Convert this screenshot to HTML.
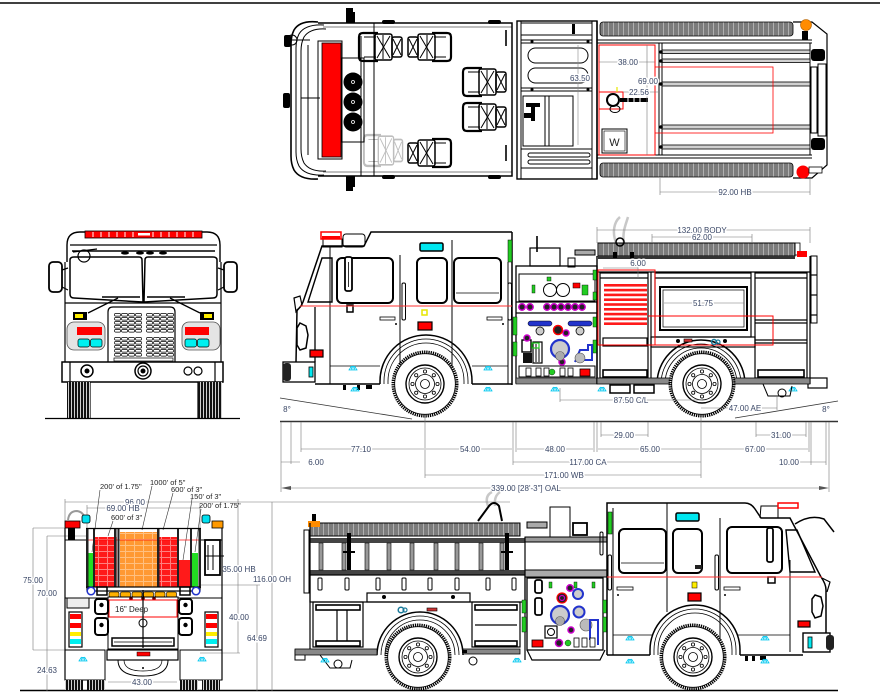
<!DOCTYPE html>
<html><head><meta charset="utf-8"><style>
html,body{margin:0;padding:0;background:#fff;}
svg{display:block;}
text{font-family:"Liberation Sans",sans-serif;}
.d{font-size:8px;fill:#3a4766;text-anchor:middle;paint-order:stroke;stroke:#fff;stroke-width:3px;stroke-linejoin:round;}
.h{font-size:7.5px;fill:#222;}
</style></head><body>
<svg width="880" height="700" viewBox="0 0 880 700" xmlns="http://www.w3.org/2000/svg">
<defs>
<pattern id="lad" width="5" height="10" patternUnits="userSpaceOnUse"><rect width="5" height="10" fill="#7c7c7c"/><rect x="3" width="1" height="10" fill="#b0b0b0"/></pattern>
<pattern id="hr" width="9" height="6" patternUnits="userSpaceOnUse"><rect width="9" height="6" fill="#ff1a1a"/><rect y="5" width="9" height="1" fill="#ff8080"/><rect x="8" width="1" height="6" fill="#ff8080"/></pattern>
<pattern id="ho" width="9" height="6" patternUnits="userSpaceOnUse"><rect width="9" height="6" fill="#ff9933"/><rect y="5" width="9" height="1" fill="#ffc080"/><rect x="8" width="1" height="6" fill="#ffc080"/></pattern>
<pattern id="tread" width="3" height="4" patternUnits="userSpaceOnUse"><rect width="3" height="4" fill="#111"/><rect x="2" width="0.8" height="4" fill="#fff"/></pattern>
<pattern id="g1" x="114" y="313" width="7" height="4" patternUnits="userSpaceOnUse"><rect x="0.5" y="0.5" width="6" height="2.6" rx="1" fill="#fff" stroke="#000" stroke-width="0.7"/></pattern>
<pattern id="g2" x="146" y="313" width="7" height="4" patternUnits="userSpaceOnUse"><rect x="0.5" y="0.5" width="6" height="2.6" rx="1" fill="#fff" stroke="#000" stroke-width="0.7"/></pattern>
<g id="wheel">
<circle r="32" fill="#fff" stroke="#000" stroke-width="3" stroke-dasharray="1.3 0.9"/>
<circle r="30.3" fill="none" stroke="#000" stroke-width="0.8"/>
<circle r="19" fill="none" stroke="#000" stroke-width="1.4"/>
<circle r="16" fill="none" stroke="#000" stroke-width="0.8"/>
<circle r="9.5" fill="none" stroke="#000" stroke-width="0.8"/>
<circle r="4.5" fill="none" stroke="#000" stroke-width="0.8"/>
<g fill="none" stroke="#000" stroke-width="0.8">
<circle cx="12.5" cy="0" r="1.6"/><circle cx="8.8" cy="8.8" r="1.6"/><circle cx="0" cy="12.5" r="1.6"/><circle cx="-8.8" cy="8.8" r="1.6"/><circle cx="-12.5" cy="0" r="1.6"/><circle cx="-8.8" cy="-8.8" r="1.6"/><circle cx="0" cy="-12.5" r="1.6"/><circle cx="8.8" cy="-8.8" r="1.6"/>
</g>
</g>
<g id="sp"><path d="M-4,3 L-1.5,-1 M-2,3 L-0.7,-1 M0,3 L0,-1 M2,3 L0.7,-1 M4,3 L1.5,-1 M-4.5,3 H4.5" stroke="#00c8f0" stroke-width="0.8" fill="none"/></g>
<g id="seat" fill="none" stroke="#000">
<path d="M20,1 L5,1 Q1,1 1,5 L1,25 Q1,29 5,29 L20,29" stroke-width="2.2"/>
<path d="M6,5 L18,5 M6,25 L18,25" stroke-width="1"/>
<rect x="17" y="2" width="17" height="26" rx="2" stroke-width="1.5"/>
<path d="M19,4 L32,26 M32,4 L19,26 M25,3 L25,27" stroke-width="1"/>
<rect x="34" y="5" width="10" height="20" rx="2" stroke-width="1.5"/>
<path d="M35,7 L43,23 M43,7 L35,23" stroke-width="1"/>
</g>
</defs>

<!-- frame lines -->
<line x1="0" y1="3" x2="880" y2="3" stroke="#000" stroke-width="1.5"/>
<line x1="20" y1="690.5" x2="838" y2="690.5" stroke="#000" stroke-width="1.6"/>

<!-- ================= TOP VIEW ================= -->
<g fill="none" stroke="#000" stroke-width="1">
<path d="M318,22 Q300,20 294,30 Q291,36 291,44 L291,156 Q291,164 294,170 Q300,180 318,179" stroke-width="1.6"/>
<path d="M324,25 Q305,24 299,34 Q296,40 296,48 L296,152 Q296,160 299,166 Q305,176 324,175"/>
<path d="M326,29 Q310,28 304,37 Q301,43 301,51 L301,149 Q301,157 304,163 Q310,172 326,171"/>
<line x1="308" y1="45" x2="308" y2="155"/>
<line x1="301" y1="98" x2="320" y2="98"/>
<path d="M318,23 H512 V176 H318" stroke-width="1.5"/>
<line x1="323" y1="27" x2="512" y2="27" stroke-width="0.6"/>
<line x1="323" y1="172" x2="512" y2="172" stroke-width="0.6"/>
<line x1="361" y1="36" x2="361" y2="176"/>
<line x1="374" y1="23" x2="374" y2="176"/>
<rect x="318" y="41" width="24" height="118"/>
<rect x="341" y="58" width="23" height="84"/>
<circle cx="292" cy="40" r="5"/>
<line x1="292" y1="40" x2="310" y2="40"/>
<line x1="506" y1="30" x2="506" y2="46" stroke-width="1.6"/>
<line x1="506" y1="145" x2="506" y2="161" stroke-width="1.6"/>
</g>
<rect x="322" y="43" width="19" height="114" fill="#f00" stroke="#000" stroke-width="0.8"/>
<g fill="#000">
<rect x="284" y="35" width="7" height="12" rx="2"/>
<rect x="283" y="93" width="7" height="15" rx="2"/>
<path d="M346,8 h7 v4 h2 v11 h-9 z"/>
<path d="M346,176 h9 v11 h-2 v4 h-7 z"/>
<rect x="382" y="20" width="13" height="4" rx="2"/><rect x="488" y="20" width="13" height="4" rx="2"/>
<rect x="382" y="175" width="13" height="4" rx="2"/><rect x="488" y="175" width="13" height="4" rx="2"/>
<circle cx="353" cy="82" r="9.5"/><circle cx="353" cy="102" r="9.5"/><circle cx="353" cy="122" r="9.5"/>
</g>
<g fill="none" stroke="#fff" stroke-width="0.8"><circle cx="353" cy="82" r="1.5"/><circle cx="353" cy="102" r="1.5"/><circle cx="353" cy="122" r="1.5"/></g>
<use href="#seat" transform="translate(358,32)"/>
<use href="#seat" transform="translate(452,32) scale(-1,1)"/>
<use href="#seat" transform="translate(462,67)"/>
<use href="#seat" transform="translate(462,102)"/>
<use href="#seat" transform="translate(452,138) scale(-1,1)"/>
<use href="#seat" transform="translate(363,134) scale(0.9,1.1)" opacity="0.25"/>

<!-- pump house top -->
<g fill="none" stroke="#000" stroke-width="1">
<rect x="517" y="21" width="80" height="158" stroke-width="1.4"/>
<line x1="521" y1="21" x2="521" y2="179"/>
<line x1="592" y1="21" x2="592" y2="179"/>
<rect x="521" y="23" width="71" height="12"/>
<line x1="521" y1="40" x2="592" y2="40"/><line x1="521" y1="43" x2="592" y2="43"/>
<rect x="528" y="48" width="60" height="15" rx="7.5"/>
<rect x="528" y="68" width="60" height="15" rx="7.5"/>
<line x1="521" y1="88" x2="592" y2="88"/><line x1="521" y1="91" x2="592" y2="91"/>
<rect x="523" y="96" width="50" height="50"/>
<line x1="545" y1="96" x2="545" y2="146"/><line x1="549" y1="96" x2="549" y2="146"/>
<line x1="521" y1="149" x2="592" y2="149"/>
<rect x="528" y="153" width="62" height="4" rx="2"/>
<rect x="528" y="160" width="62" height="4" rx="2"/>
<line x1="521" y1="168" x2="592" y2="168"/>
</g>
<g fill="#000"><rect x="572" y="24" width="3" height="10"/><rect x="526" y="103" width="14" height="4"/><rect x="531" y="107" width="4" height="14"/><rect x="524" y="113" width="7" height="5"/><circle cx="532" cy="41.5" r="1.5"/><circle cx="588" cy="41.5" r="1.5"/><circle cx="532" cy="89.5" r="1.5"/><circle cx="588" cy="89.5" r="1.5"/></g>
<line x1="578" y1="45" x2="578" y2="145" stroke="#888" stroke-width="0.6"/>
<text class="d" x="580" y="81">63.50</text>

<!-- body top -->
<rect x="600" y="22" width="193" height="14" rx="3" fill="url(#lad)" stroke="#000" stroke-width="0.8"/>
<rect x="600" y="163" width="193" height="14" rx="3" fill="url(#lad)" stroke="#000" stroke-width="0.8"/>
<g fill="none" stroke="#000" stroke-width="1">
<line x1="597" y1="21" x2="597" y2="179" stroke-width="1.4"/>
<path d="M793,22 H812 L827,34 V165 L812,178 H793" stroke-width="1.2"/>
<line x1="597" y1="40" x2="812" y2="40"/><line x1="597" y1="43" x2="812" y2="43"/>
<line x1="597" y1="155" x2="812" y2="155"/><line x1="597" y1="158" x2="812" y2="158"/>
<line x1="659" y1="43" x2="659" y2="155"/><line x1="662" y1="43" x2="662" y2="155"/>
<line x1="810" y1="43" x2="810" y2="155"/>
<rect x="811" y="67" width="6" height="66"/>
<rect x="818" y="64" width="8" height="72"/>
</g>
<g fill="#d0d0d0" stroke="#000" stroke-width="0.8">
<rect x="662" y="50" width="148" height="3.5"/><rect x="662" y="59" width="148" height="3.5"/>
<rect x="662" y="82" width="148" height="4"/><rect x="662" y="125" width="148" height="4"/><rect x="662" y="145" width="148" height="4"/>
</g>
<g fill="#000">
<rect x="811" y="49" width="14" height="12" rx="3"/><rect x="811" y="138" width="14" height="12" rx="3"/>
<rect x="802" y="31" width="6" height="9"/>
<circle cx="661" cy="52" r="1.8"/><circle cx="661" cy="61" r="1.8"/><circle cx="661" cy="84" r="1.8"/><circle cx="661" cy="127" r="1.8"/><circle cx="661" cy="147" r="1.8"/>
</g>
<circle cx="806" cy="25" r="5.5" fill="#ff8c00" stroke="#b06000" stroke-width="0.6"/>
<circle cx="803" cy="172" r="6.5" fill="#f00"/>
<rect x="809" y="167" width="13" height="6" fill="#fff" stroke="#000" stroke-width="0.8"/>
<g fill="none" stroke="#f00" stroke-width="1">
<rect x="599" y="45" width="56" height="110"/>
<rect x="655" y="67" width="118" height="66" stroke-width="0.8"/>
<rect x="599" y="92" width="24" height="17"/>
</g>
<g fill="none" stroke="#000">
<circle cx="613" cy="100" r="6" stroke-width="2"/>
<ellipse cx="615" cy="109" rx="5" ry="3.5" stroke-width="1"/>
</g>
<rect x="620" y="98" width="28" height="4" fill="#000"/>
<g stroke="#fff" stroke-width="1"><line x1="628" y1="98" x2="628" y2="102"/><line x1="634" y1="98" x2="634" y2="102"/><line x1="640" y1="98" x2="640" y2="102"/></g>
<line x1="617" y1="87" x2="617" y2="92" stroke="#e6e600" stroke-width="1.2"/>
<g fill="none" stroke="#000" stroke-width="1"><rect x="602" y="129" width="25" height="24"/><rect x="604" y="131" width="21" height="20" stroke-width="0.6"/></g>
<text x="614.5" y="146" font-size="11" text-anchor="middle" fill="#222">W</text>
<g stroke="#777" stroke-width="0.6" fill="none">
<line x1="599" y1="62" x2="655" y2="62"/>
<line x1="647" y1="45" x2="647" y2="155"/>
<line x1="623" y1="92" x2="658" y2="92"/>
<line x1="660" y1="178" x2="660" y2="195"/><line x1="810" y1="178" x2="810" y2="195"/>
<line x1="660" y1="192" x2="810" y2="192"/>
</g>
<text class="d" x="628" y="65">38.00</text>
<text class="d" x="648" y="84">69.00</text>
<text class="d" x="639" y="95">22.56</text>
<text class="d" x="735" y="195">92.00 HB</text>

<!-- ================= FRONT VIEW ================= -->
<g fill="none" stroke="#000" stroke-width="1.2">
<path d="M67,262 L67,245 Q67,232 80,232 L207,232 Q220,232 220,245 L220,262" stroke-width="1.4"/>
<line x1="70" y1="245" x2="217" y2="245"/>
<line x1="72" y1="251" x2="215" y2="251" stroke-width="1.6"/>
<path d="M70,260 Q70,257 74,257 L139,257 Q142,257 142,260 L143,302 L74,298 Q70,298 70,294 Z" stroke-width="1.5"/>
<path d="M217,260 Q217,257 213,257 L148,257 Q145,257 145,260 L144,302 L213,298 Q217,298 217,294 Z" stroke-width="1.5"/>
<circle cx="84" cy="256" r="6"/>
<line x1="73" y1="252" x2="97" y2="249"/>
<rect x="49" y="262" width="13" height="30" rx="4" stroke-width="1.8"/>
<rect x="224" y="262" width="13" height="30" rx="4" stroke-width="1.8"/>
<path d="M62,270 L68,268 M62,287 L68,290 M224,270 L218,268 M224,287 L218,290"/>
<line x1="65" y1="262" x2="65" y2="362"/><line x1="221" y1="262" x2="221" y2="362"/>
<line x1="65" y1="303" x2="221" y2="303"/>
<path d="M108,362 L108,312 Q108,307 113,307 L170,307 Q175,307 175,312 L175,362"/>
<line x1="102" y1="297" x2="140" y2="297" stroke-width="1.5"/>
<line x1="147" y1="297" x2="185" y2="297" stroke-width="1.5"/>
<line x1="88" y1="313" x2="118" y2="298" stroke-width="1.3"/>
<line x1="200" y1="313" x2="170" y2="298" stroke-width="1.3"/>
<rect x="62" y="362" width="161" height="20" stroke-width="1.5"/>
<line x1="70" y1="362" x2="70" y2="382"/><line x1="215" y1="362" x2="215" y2="382"/>
<circle cx="87" cy="371" r="6" stroke-width="1.5"/>
<circle cx="143" cy="371" r="8" stroke-width="1.5"/>
<circle cx="143" cy="371" r="5"/>
<circle cx="188" cy="371" r="4"/><circle cx="198" cy="371" r="4"/>
<line x1="90" y1="382" x2="90" y2="418"/><line x1="198" y1="382" x2="198" y2="418"/>
</g>
<g fill="#000"><ellipse cx="125" cy="253" rx="4" ry="1.6"/><ellipse cx="140" cy="253" rx="4" ry="1.6"/><ellipse cx="150" cy="253" rx="4" ry="1.6"/><ellipse cx="163" cy="253" rx="4" ry="1.6"/><circle cx="87" cy="371" r="2.5"/><circle cx="143" cy="371" r="2.5"/></g>
<rect x="85" y="231" width="117" height="7" fill="#f00" stroke="#000" stroke-width="0.8"/>
<g stroke="#fff" stroke-width="1"><line x1="93" y1="232" x2="93" y2="237"/><line x1="101" y1="232" x2="101" y2="237"/><line x1="109" y1="232" x2="109" y2="237"/><line x1="117" y1="232" x2="117" y2="237"/><line x1="125" y1="232" x2="125" y2="237"/><line x1="133" y1="232" x2="133" y2="237"/><line x1="153" y1="232" x2="153" y2="237"/><line x1="161" y1="232" x2="161" y2="237"/><line x1="169" y1="232" x2="169" y2="237"/><line x1="177" y1="232" x2="177" y2="237"/><line x1="185" y1="232" x2="185" y2="237"/><line x1="193" y1="232" x2="193" y2="237"/></g>
<rect x="138" y="233" width="12" height="2.5" fill="#fff"/>
<rect x="114" y="313" width="28" height="20" fill="url(#g1)"/>
<rect x="146" y="313" width="28" height="20" fill="url(#g2)"/>
<rect x="114" y="337" width="28" height="20" fill="url(#g1)"/>
<rect x="146" y="337" width="28" height="20" fill="url(#g2)"/>
<rect x="114" y="358" width="59" height="3" fill="#fff" stroke="#000" stroke-width="0.7"/>
<rect x="73" y="312" width="14" height="8" fill="#000"/><rect x="75" y="314" width="8" height="4" fill="#ffee00"/>
<rect x="200" y="312" width="14" height="8" fill="#000"/><rect x="204" y="314" width="8" height="4" fill="#ffee00"/>
<rect x="67" y="322" width="38" height="28" rx="7" fill="#e4e4e4" stroke="#555" stroke-width="0.8"/>
<rect x="182" y="322" width="38" height="28" rx="7" fill="#e4e4e4" stroke="#555" stroke-width="0.8"/>
<rect x="77" y="327" width="25" height="8" fill="#f00"/><rect x="185" y="327" width="24" height="8" fill="#f00"/>
<g fill="#00f0f0" stroke="#000" stroke-width="0.7"><rect x="78" y="339" width="11.5" height="8" rx="2"/><rect x="90.5" y="339" width="11.5" height="8" rx="2"/><rect x="185" y="339" width="11.5" height="8" rx="2"/><rect x="197.5" y="339" width="11.5" height="8" rx="2"/></g>
<rect x="67" y="382" width="23" height="36" fill="url(#tread)"/>
<rect x="198" y="382" width="24" height="36" fill="url(#tread)"/>
<line x1="45" y1="418.5" x2="240" y2="418.5" stroke="#000" stroke-width="1.2"/>

<!-- ================= SIDE VIEW 1 (facing left) ================= -->
<!-- deck gun faded -->
<path d="M616,243 C612,232 614,222 620,217 M624,243 C622,232 626,224 628,217" stroke="#c8c8c8" stroke-width="2.5" fill="none"/>
<g fill="none" stroke="#000" stroke-width="1.3">
<path d="M512,232 H371 L364,246 H322 L303,302 Q301,307 297,310 L296,362" stroke-width="1.5"/>
<rect x="343" y="234" width="22" height="13" rx="3" stroke-width="1"/>
<rect x="323" y="239" width="19" height="8" stroke-width="1"/>
<line x1="315" y1="307" x2="315" y2="362"/>
<rect x="283" y="362" width="32" height="20"/>
<path d="M315,384 H380 M472,384 H512" stroke-width="1.5"/>
<line x1="512" y1="232" x2="512" y2="385" stroke-width="1.5"/>
<path d="M380,384 V381 A46,46 0 0 1 472,381 V384" stroke-width="1.5"/>
<path d="M384,384 V381 A42,42 0 0 1 468,381 V384" stroke-width="0.8"/>
<path d="M388,384 V381 A38,38 0 0 1 464,381 V384" stroke-width="0.8"/>
<rect x="337" y="258" width="56" height="45" rx="5" stroke-width="2"/>
<rect x="417" y="258" width="30" height="45" rx="5" stroke-width="2"/>
<rect x="454" y="258" width="47" height="45" rx="5" stroke-width="2"/>
<line x1="456" y1="293" x2="499" y2="293" stroke-width="0.8"/>
<path d="M322,258 H332 V302 H308 Z" stroke-width="1.4"/>
<line x1="330" y1="247" x2="330" y2="384" stroke-width="1"/>
<line x1="400" y1="255" x2="400" y2="366" stroke-width="1"/>
<line x1="452" y1="240" x2="452" y2="384" stroke-width="1"/>
<line x1="508" y1="262" x2="508" y2="384" stroke-width="1"/>
<path d="M330,366 H380 M472,366 H508" stroke-width="0.8"/>
<rect x="402" y="283" width="3.5" height="37" rx="1.5" stroke-width="1"/>
<rect x="508" y="283" width="3.5" height="37" rx="1.5" stroke-width="1"/>
<rect x="380" y="317" width="15" height="3" stroke-width="0.8"/>
<rect x="487" y="317" width="15" height="3" stroke-width="0.8"/>
<path d="M300,323 L306,326 L308,335 L306,348 L300,350 L297,345 L297,328 Z" stroke-width="1.5"/>
<path d="M294,298 L300,296 L302,305 L296,312 Z" stroke-width="1.2"/>
</g>
<rect x="345" y="257" width="7" height="34" rx="2" fill="#fff" stroke="#000" stroke-width="1.8"/>
<line x1="348.5" y1="262" x2="348.5" y2="287" stroke="#000" stroke-width="0.8"/>
<rect x="347" y="305" width="6" height="7" fill="#fff" stroke="#000" stroke-width="1.5"/>
<rect x="321" y="232" width="20" height="7" fill="#fff" stroke="#f00" stroke-width="1.5"/>
<rect x="322" y="236" width="18" height="3" fill="#f00"/>
<circle cx="396" cy="324" r="1" fill="#000"/><circle cx="503" cy="324" r="1" fill="#000"/>
<rect x="508" y="240" width="4" height="22" fill="#22cc22" stroke="#000" stroke-width="0.5"/>
<rect x="420" y="243" width="23" height="8" rx="1.5" fill="#00e8f0" stroke="#000" stroke-width="1.5"/>
<line x1="300" y1="306" x2="512" y2="306" stroke="#ff3030" stroke-width="1"/>
<rect x="422" y="310" width="5" height="5" fill="none" stroke="#e6e600" stroke-width="1.5"/>
<rect x="418" y="322" width="14" height="8" fill="#f00" stroke="#000" stroke-width="1.2"/>
<rect x="310" y="350" width="13" height="7" fill="#f00" stroke="#000" stroke-width="1.2"/>
<rect x="283" y="363" width="8" height="18" rx="3" fill="#222"/>
<rect x="309" y="367" width="4" height="10" fill="#00e8f0" stroke="#000" stroke-width="0.8"/>
<g fill="#000"><rect x="343" y="385" width="3" height="5"/><rect x="357" y="385" width="3" height="5"/><rect x="366" y="385" width="6" height="4"/></g>
<use href="#sp" x="353" y="367"/><use href="#sp" x="488" y="367"/><use href="#sp" x="355" y="388"/><use href="#sp" x="488" y="388"/><use href="#sp" x="555" y="388"/><use href="#sp" x="602" y="388"/><use href="#sp" x="793" y="388"/>
<use href="#wheel" x="425" y="384"/>
<!-- pump panel -->
<g fill="none" stroke="#000" stroke-width="1">
<line x1="537" y1="236" x2="537" y2="252" stroke-width="1.6"/>
<rect x="530" y="248" width="30" height="18" stroke-width="1.2"/>
<rect x="568" y="258" width="7" height="9"/>
<rect x="575" y="250" width="20" height="5" fill="#aaa"/>
<rect x="516" y="266" width="81" height="117" stroke-width="1.3"/>
<rect x="519" y="274" width="76" height="27"/>
<circle cx="550" cy="290" r="6.5"/><circle cx="563" cy="290" r="6.5"/>
<line x1="516" y1="302" x2="597" y2="302" stroke-width="1.2"/>
<line x1="516" y1="313" x2="597" y2="313" stroke-width="1.2"/>
<rect x="522" y="340" width="9" height="12" stroke-width="1.4"/>
<rect x="533" y="342" width="9" height="21" stroke-width="1.2"/>
<line x1="536" y1="344" x2="536" y2="362"/><line x1="539" y1="344" x2="539" y2="362"/>
<rect x="519" y="366" width="76" height="11"/>
</g>
<g fill="#22cc22" stroke="#000" stroke-width="0.4">
<rect x="532" y="285" width="3" height="8"/><rect x="547" y="277" width="4" height="4"/>
<rect x="582" y="285" width="6" height="10"/>
<rect x="513" y="317" width="4" height="18"/><rect x="513" y="342" width="4" height="14"/>
<rect x="593" y="270" width="4" height="10"/><rect x="593" y="292" width="4" height="8"/><rect x="593" y="317" width="4" height="10"/><rect x="593" y="340" width="4" height="13"/>
<rect x="532" y="343" width="7" height="5" fill="none" stroke="#22cc22" stroke-width="1.2"/>
<circle cx="552" cy="372" r="3"/>
</g>
<rect x="573" y="283" width="7" height="5" fill="#f00" stroke="#000" stroke-width="0.5"/>
<g fill="#222" stroke="#cc00cc" stroke-width="1.5">
<circle cx="522" cy="307" r="3.2"/><circle cx="530" cy="307" r="3.2"/><circle cx="547" cy="307" r="3.2"/><circle cx="554" cy="307" r="3.2"/><circle cx="561" cy="307" r="3.2"/><circle cx="568" cy="307" r="3.2"/><circle cx="575" cy="307" r="3.2"/><circle cx="582" cy="307" r="3.2"/>
<circle cx="527" cy="338" r="3"/><circle cx="566" cy="333" r="3"/><circle cx="562" cy="362" r="3"/>
</g>
<rect x="528" y="321" width="24" height="5" rx="2.5" fill="#2233cc" stroke="#000" stroke-width="0.5"/>
<rect x="568" y="321" width="24" height="5" rx="2.5" fill="#2233cc" stroke="#000" stroke-width="0.5"/>
<circle cx="540" cy="331" r="4" fill="#ccc" stroke="#000" stroke-width="0.8"/>
<circle cx="580" cy="331" r="4" fill="#ccc" stroke="#000" stroke-width="0.8"/>
<circle cx="558" cy="330" r="4.5" fill="#222" stroke="#f00" stroke-width="1.5"/>
<circle cx="560" cy="349" r="9" fill="#ccc" stroke="#2233cc" stroke-width="2.2"/>
<circle cx="560" cy="356" r="4.5" fill="#aaa" stroke="#555" stroke-width="0.6"/>
<path d="M575,362 L580,350 H588 V345 H592 V360 H584" fill="none" stroke="#2233cc" stroke-width="2"/>
<circle cx="580" cy="358" r="5" fill="#bbb" stroke="#555" stroke-width="0.6"/>
<rect x="523" y="353" width="9" height="10" fill="#111"/>
<g fill="#fff" stroke="#000" stroke-width="0.8"><rect x="526" y="368" width="5" height="8"/><rect x="536" y="368" width="5" height="8"/><rect x="544" y="368" width="5" height="8"/><rect x="560" y="368" width="5" height="8"/><rect x="568" y="368" width="5" height="8"/></g>
<rect x="580" y="369" width="10" height="7" fill="#f00" stroke="#000" stroke-width="0.8"/>
<rect x="516" y="378" width="81" height="6" fill="#888" stroke="#000" stroke-width="0.6"/>
<!-- body side 1 -->
<rect x="598" y="243" width="197" height="13" fill="url(#lad)" stroke="#000" stroke-width="1"/>
<rect x="598" y="256" width="197" height="3" fill="#333"/>
<rect x="795" y="243" width="5" height="12" fill="none" stroke="#000" stroke-width="0.8"/>
<circle cx="620" cy="242" r="4" fill="none" stroke="#000" stroke-width="1.5"/>
<g fill="#000"><rect x="613" y="252" width="4" height="6"/><rect x="630" y="252" width="4" height="6"/></g>
<g fill="none" stroke="#000" stroke-width="1.2">
<line x1="597" y1="256" x2="597" y2="384" stroke-width="1.4"/>
<line x1="810" y1="256" x2="810" y2="384" stroke-width="1.2"/>
<line x1="597" y1="272" x2="810" y2="272"/>
<rect x="600" y="273" width="48" height="105"/>
<line x1="600" y1="278" x2="648" y2="278"/>
<rect x="603" y="338" width="44" height="8"/>
<rect x="603" y="370" width="44" height="7" stroke-width="1.6"/>
<line x1="651" y1="272" x2="651" y2="384"/>
<rect x="655" y="273" width="96" height="64"/>
<line x1="655" y1="278" x2="751" y2="278"/>
<rect x="660" y="287" width="87" height="43" stroke-width="2"/>
<rect x="663" y="290" width="81" height="37" stroke-width="0.7"/>
<rect x="651" y="337" width="104" height="10"/>
<rect x="755" y="273" width="52" height="105"/>
<line x1="755" y1="278" x2="807" y2="278"/>
<line x1="755" y1="320" x2="807" y2="320"/><line x1="755" y1="323" x2="807" y2="323"/>
<line x1="755" y1="340" x2="807" y2="340"/><line x1="755" y1="343" x2="807" y2="343"/>
<rect x="758" y="370" width="46" height="7" stroke-width="1.6"/>
<rect x="811" y="256" width="6" height="67" stroke-width="1"/>
<line x1="811" y1="275" x2="817" y2="275"/><line x1="811" y1="295" x2="817" y2="295"/><line x1="811" y1="315" x2="817" y2="315"/>
<path d="M657,384 A44,44 0 0 1 745,384" stroke-width="1.5"/>
<path d="M661,384 A40,40 0 0 1 741,384" stroke-width="0.8"/>
<path d="M665,384 A36,36 0 0 1 737,384" stroke-width="0.8"/>
<rect x="610" y="385" width="20" height="8" stroke-width="1.5"/>
<rect x="634" y="385" width="20" height="8" stroke-width="1.5"/>
<rect x="808" y="378" width="19" height="10"/>
<path d="M763,384 L768,396 H790 L792,386" stroke-width="1"/>
<circle cx="782" cy="393" r="4" stroke-width="1"/>
</g>
<g fill="#ff1a1a"><rect x="604" y="284" width="43" height="2.6"/><rect x="604" y="288.8" width="43" height="2.6"/><rect x="604" y="293.6" width="43" height="2.6"/><rect x="604" y="298.4" width="43" height="2.6"/><rect x="604" y="303.2" width="43" height="2.6"/><rect x="604" y="308" width="43" height="2.6"/><rect x="604" y="312.8" width="43" height="2.6"/><rect x="604" y="317.6" width="43" height="2.6"/><rect x="604" y="322.4" width="43" height="2.6"/></g>
<g fill="none" stroke="#f00" stroke-width="1"><rect x="598" y="270" width="57" height="75"/><path d="M648,316 H773 V345 H655"/></g>
<rect x="597" y="378" width="213" height="6" fill="#888" stroke="#000" stroke-width="0.8"/>
<circle cx="678" cy="341" r="2" fill="#000"/><circle cx="725" cy="341" r="2" fill="#000"/>
<rect x="684" y="339" width="8" height="3" fill="#c33" stroke="#000" stroke-width="0.6"/>
<circle cx="714" cy="342" r="2.5" fill="none" stroke="#1a7a9a" stroke-width="1.5"/><circle cx="718" cy="342" r="2" fill="none" stroke="#1a7a9a" stroke-width="1.2"/>
<rect x="797" y="251" width="10" height="6" fill="#f00"/>
<use href="#wheel" x="702" y="384"/>
<!-- dims side 1 -->
<g stroke="#777" stroke-width="0.6" fill="none">
<line x1="597" y1="230" x2="810" y2="230"/><line x1="597" y1="227" x2="597" y2="243"/><line x1="810" y1="227" x2="810" y2="243"/>
<line x1="652" y1="237" x2="752" y2="237"/><line x1="652" y1="234" x2="652" y2="243"/><line x1="752" y1="234" x2="752" y2="243"/>
<line x1="603" y1="268" x2="638" y2="268"/><line x1="638" y1="262" x2="638" y2="278"/>
<line x1="664" y1="303" x2="744" y2="303"/>
<line x1="560" y1="400" x2="702" y2="400"/><line x1="560" y1="388" x2="560" y2="402"/>
<line x1="701" y1="408" x2="777" y2="408"/><line x1="777" y1="396" x2="777" y2="410"/>
</g>
<text class="d" x="702" y="233">132.00 BODY</text>
<text class="d" x="702" y="240">62.00</text>
<text class="d" x="638" y="266">6.00</text>
<text class="d" x="703" y="306">51.75</text>
<text class="d" x="631" y="403">87.50 C/L</text>
<text class="d" x="745" y="411">47.00 AE</text>
<!-- ground & angles -->
<line x1="280" y1="421.5" x2="838" y2="421.5" stroke="#333" stroke-width="1.4"/>
<line x1="280" y1="398" x2="412" y2="419" stroke="#333" stroke-width="0.8"/>
<line x1="735" y1="418" x2="838" y2="401" stroke="#333" stroke-width="0.8"/>
<text class="d" x="287" y="412">8°</text>
<text class="d" x="826" y="412">8°</text>
<!-- bottom dimensions -->
<g stroke="#777" stroke-width="0.6" fill="none">
<line x1="281" y1="422" x2="281" y2="492"/><line x1="291" y1="422" x2="291" y2="464"/><line x1="301" y1="422" x2="301" y2="452"/>
<line x1="425" y1="417" x2="425" y2="478"/><line x1="513" y1="422" x2="513" y2="465"/><line x1="516" y1="422" x2="516" y2="452"/>
<line x1="594" y1="422" x2="594" y2="452"/><line x1="597" y1="422" x2="597" y2="452"/><line x1="601" y1="422" x2="601" y2="437"/><line x1="648" y1="422" x2="648" y2="437"/>
<line x1="701" y1="417" x2="701" y2="478"/><line x1="756" y1="422" x2="756" y2="437"/><line x1="806" y1="422" x2="806" y2="437"/><line x1="809" y1="422" x2="809" y2="452"/>
<line x1="811" y1="422" x2="811" y2="465"/><line x1="826" y1="422" x2="826" y2="465"/><line x1="829" y1="422" x2="829" y2="492"/>
<line x1="601" y1="435" x2="648" y2="435"/><line x1="756" y1="435" x2="806" y2="435"/>
<line x1="301" y1="449" x2="424" y2="449"/><line x1="426" y1="449" x2="512" y2="449"/><line x1="517" y1="449" x2="593" y2="449"/><line x1="598" y1="449" x2="700" y2="449"/><line x1="702" y1="449" x2="808" y2="449"/>
<line x1="281" y1="462" x2="300" y2="462"/><line x1="513" y1="462" x2="701" y2="462"/><line x1="800" y1="462" x2="826" y2="462"/>
<line x1="425" y1="475" x2="701" y2="475"/>
<line x1="285" y1="488" x2="825" y2="488"/>
</g>
<path d="M281,488 L291,486 L291,490 Z M829,488 L819,486 L819,490 Z" fill="#555"/>
<text class="d" x="624" y="438">29.00</text>
<text class="d" x="781" y="438">31.00</text>
<text class="d" x="361" y="452">77.10</text>
<text class="d" x="470" y="452">54.00</text>
<text class="d" x="555" y="452">48.00</text>
<text class="d" x="650" y="452">65.00</text>
<text class="d" x="755" y="452">67.00</text>
<text class="d" x="316" y="465">6.00</text>
<text class="d" x="588" y="465">117.00 CA</text>
<text class="d" x="789" y="465">10.00</text>
<text class="d" x="564" y="478">171.00 WB</text>
<text class="d" x="526" y="491">339.00 [28'-3"] OAL</text>
<!-- faded deck gun below -->
<path d="M488,506 C485,498 488,494 492,492 M495,506 C494,498 497,494 500,492" stroke="#c8c8c8" stroke-width="2.5" fill="none"/>

<!-- ================= REAR VIEW ================= -->
<g stroke="#777" stroke-width="0.6" fill="none">
<line x1="65" y1="502" x2="510" y2="502"/>
<line x1="65" y1="499" x2="65" y2="528"/><line x1="238" y1="499" x2="238" y2="653"/>
<line x1="87" y1="508" x2="200" y2="508"/><line x1="87" y1="505" x2="87" y2="528"/><line x1="200" y1="505" x2="200" y2="528"/>
<line x1="33" y1="528" x2="65" y2="528"/><line x1="33" y1="528" x2="33" y2="650"/><line x1="33" y1="650" x2="65" y2="650"/>
<line x1="47" y1="536" x2="87" y2="536"/><line x1="47" y1="536" x2="47" y2="691"/>
<line x1="200" y1="585" x2="260" y2="585"/><line x1="257" y1="585" x2="257" y2="691"/>
<line x1="200" y1="653" x2="240" y2="653"/>
<line x1="272" y1="502" x2="272" y2="691"/>
<line x1="108" y1="682" x2="177" y2="682"/>
</g>
<g stroke="#333" stroke-width="0.6" fill="none">
<line x1="100" y1="490" x2="92" y2="552"/><line x1="152" y1="486" x2="142" y2="530"/><line x1="173" y1="493" x2="163" y2="530"/><line x1="192" y1="499" x2="183" y2="560"/><line x1="201" y1="509" x2="195" y2="552"/><line x1="113" y1="521" x2="108" y2="536"/>
</g>
<text class="d" x="135" y="505">96.00</text>
<text class="d" x="123" y="511">69.00 HB</text>
<text class="d" x="33" y="583">75.00</text>
<text class="d" x="47" y="596">70.00</text>
<text class="d" x="47" y="673">24.63</text>
<text class="d" x="142" y="685">43.00</text>
<text class="d" x="239" y="572">35.00 HB</text>
<text class="d" x="239" y="620">40.00</text>
<text class="d" x="257" y="641">64.69</text>
<text class="d" x="272" y="582">116.00 OH</text>
<text class="h" x="100" y="489">200' of 1.75"</text>
<text class="h" x="150" y="485">1000' of 5"</text>
<text class="h" x="171" y="492">600' of 3"</text>
<text class="h" x="190" y="499">150' of 3"</text>
<text class="h" x="199" y="508">200' of 1.75"</text>
<text class="h" x="111" y="520">600' of 3"</text>
<!-- hose bed -->
<rect x="95" y="537" width="22" height="50" fill="url(#hr)"/>
<rect x="120" y="532" width="37" height="55" fill="url(#ho)"/>
<rect x="159" y="537" width="18" height="50" fill="url(#hr)"/>
<rect x="179" y="560" width="11" height="27" fill="#ff1a1a"/>
<rect x="88" y="553" width="6" height="34" fill="#22dd22"/>
<rect x="192" y="553" width="6" height="34" fill="#22dd22"/>
<rect x="87" y="540" width="113" height="48" fill="none" stroke="#f00" stroke-width="0.7"/>
<g fill="#222"><rect x="86" y="528" width="2.5" height="60"/><rect x="93" y="528" width="2" height="60"/><rect x="114" y="528" width="2.5" height="60"/><rect x="117.5" y="528" width="2" height="60"/><rect x="157" y="528" width="2.5" height="60"/><rect x="177" y="528" width="2" height="60"/><rect x="190" y="528" width="2" height="60"/><rect x="198.5" y="528" width="2.5" height="60"/></g>
<line x1="86" y1="528.5" x2="201" y2="528.5" stroke="#000" stroke-width="1.2"/>
<rect x="87" y="587" width="113" height="4" fill="#fff" stroke="#000" stroke-width="1.2"/>
<g fill="#ffb000" stroke="#000" stroke-width="0.6"><rect x="109" y="592" width="10" height="5" rx="1.5"/><rect x="120.5" y="592" width="10" height="5" rx="1.5"/><rect x="132" y="592" width="10" height="5" rx="1.5"/><rect x="143.5" y="592" width="10" height="5" rx="1.5"/><rect x="155" y="592" width="10" height="5" rx="1.5"/><rect x="166.5" y="592" width="10" height="5" rx="1.5"/></g>
<g fill="#600"><circle cx="131" cy="598.5" r="1.8"/><circle cx="143" cy="598.5" r="1.8"/><circle cx="154" cy="598.5" r="1.8"/></g>
<circle cx="91" cy="591" r="3.8" fill="#fff" stroke="#2233cc" stroke-width="1.5"/>
<circle cx="196" cy="591" r="3.8" fill="#fff" stroke="#2233cc" stroke-width="1.5"/>
<g fill="none" stroke="#000">
<rect x="97" y="587" width="10" height="8" stroke-width="1.5"/>
<rect x="180" y="587" width="10" height="8" stroke-width="1.5"/>
<rect x="109" y="600" width="68" height="17" stroke="#f00" stroke-width="1"/>
<rect x="108" y="597" width="70" height="52" stroke-width="1"/>
<line x1="143" y1="590" x2="143" y2="648" stroke-width="1.2"/>
<circle cx="143" cy="623" r="4"/>
<rect x="112" y="638" width="62" height="8" stroke-width="1.5"/>
<line x1="114" y1="642" x2="172" y2="642" stroke-width="0.8"/>
<rect x="107" y="650" width="71" height="10" stroke-width="1.2"/>
<path d="M118,660 Q118,676 143,676 Q168,676 168,660"/>
<path d="M124,660 Q124,671 143,671 Q162,671 162,660" stroke-width="0.7"/>
<line x1="65" y1="528" x2="65" y2="680" stroke-width="1.2"/>
<line x1="222" y1="528" x2="222" y2="680" stroke-width="1.2"/>
<line x1="65" y1="598" x2="108" y2="598"/><line x1="178" y1="598" x2="222" y2="598"/>
<rect x="65" y="650" width="40" height="30"/>
<rect x="180" y="650" width="42" height="30"/>
<line x1="65" y1="540" x2="86" y2="540"/><line x1="201" y1="540" x2="222" y2="540"/>
<rect x="205" y="540" width="15" height="35" stroke-width="1.8"/>
<path d="M208,545 V570 M213,545 V570 M205,556 H224" stroke-width="1"/>
<rect x="69" y="612" width="13" height="35" stroke-width="1.2"/>
<rect x="205" y="612" width="13" height="35" stroke-width="1.2"/>
<rect x="95" y="599" width="13" height="15" rx="3" stroke-width="2"/>
<rect x="95" y="618" width="13" height="17" rx="3" stroke-width="2"/>
<rect x="179" y="599" width="13" height="15" rx="3" stroke-width="2"/>
<rect x="179" y="618" width="13" height="17" rx="3" stroke-width="2"/>
<path d="M68,520 Q69,511 77,511 Q84,512 85,520" stroke="#999" stroke-width="2"/>
</g>
<text x="115" y="612" font-size="8" fill="#222">16" Deep</text>
<rect x="67" y="598" width="22" height="10" fill="#eee" stroke="#000" stroke-width="1"/>
<g fill="#000"><circle cx="101.5" cy="605" r="2.2"/><circle cx="101.5" cy="625" r="2.2"/><circle cx="185.5" cy="605" r="2.2"/><circle cx="185.5" cy="625" r="2.2"/><circle cx="143" cy="668" r="1"/><rect x="68" y="528" width="7" height="12"/></g>
<rect x="70" y="614" width="11" height="5" fill="#f00"/><rect x="70" y="623" width="11" height="5" fill="#f00"/><rect x="70" y="632" width="11" height="4" fill="#ffee00"/><rect x="70" y="639" width="11" height="5" fill="#00f0f0"/>
<rect x="206" y="614" width="11" height="5" fill="#f00"/><rect x="206" y="623" width="11" height="5" fill="#f00"/><rect x="206" y="632" width="11" height="4" fill="#ffee00"/><rect x="206" y="639" width="11" height="5" fill="#00f0f0"/>
<rect x="137" y="652" width="13" height="4" fill="#f00" stroke="#000" stroke-width="0.5"/>
<rect x="82" y="515" width="8" height="8" rx="2" fill="#00e0f0" stroke="#000" stroke-width="0.8"/>
<rect x="202" y="515" width="8" height="8" rx="2" fill="#00e0f0" stroke="#000" stroke-width="0.8"/>
<rect x="65" y="521" width="15" height="7" fill="#f00" stroke="#000" stroke-width="0.8"/>
<rect x="212" y="521" width="11" height="7" fill="#ff9900" stroke="#000" stroke-width="0.8"/>
<use href="#sp" x="83" y="658"/><use href="#sp" x="202" y="658"/>
<rect x="65" y="680" width="18" height="10" fill="url(#tread)"/><rect x="87" y="680" width="18" height="10" fill="url(#tread)"/>
<rect x="180" y="680" width="18" height="10" fill="url(#tread)"/><rect x="202" y="680" width="18" height="10" fill="url(#tread)"/>

<!-- ================= SIDE VIEW 2 (facing right) ================= -->
<rect x="310" y="523" width="210" height="13" fill="url(#lad)" stroke="#000" stroke-width="1"/>
<rect x="308" y="521" width="12" height="6" fill="#ff8c00"/>
<rect x="312" y="514" width="4" height="7" fill="#000"/>
<rect x="310" y="538" width="215" height="5" fill="#444"/>
<rect x="310" y="570" width="215" height="5" fill="#444"/>
<g fill="#999" stroke="#000" stroke-width="0.6"><rect x="319" y="543" width="4" height="27"/><rect x="342" y="543" width="4" height="27"/><rect x="365" y="543" width="4" height="27"/><rect x="387" y="543" width="4" height="27"/><rect x="410" y="543" width="4" height="27"/><rect x="434" y="543" width="4" height="27"/><rect x="455" y="543" width="4" height="27"/><rect x="479" y="543" width="4" height="27"/><rect x="500" y="543" width="4" height="27"/></g>
<g fill="#000"><rect x="347" y="533" width="4" height="37"/><rect x="343" y="551" width="12" height="2"/><rect x="505" y="533" width="4" height="37"/><rect x="501" y="551" width="12" height="2"/></g>
<path d="M478,521 L489,506 Q494,500 499,506 L502,521" fill="none" stroke="#000" stroke-width="2"/>
<g fill="none" stroke="#000" stroke-width="1.2">
<rect x="304" y="530" width="5" height="63" stroke-width="1"/>
<rect x="310" y="575" width="215" height="27"/>
<line x1="310" y1="523" x2="310" y2="650"/>
<rect x="367" y="593" width="103" height="9"/>
<rect x="313" y="602" width="50" height="45"/>
<rect x="316" y="605" width="44" height="5" stroke-width="1.6"/>
<rect x="316" y="641" width="44" height="5" stroke-width="1.6"/>
<line x1="337" y1="610" x2="337" y2="641"/><line x1="347" y1="610" x2="347" y2="641"/>
<rect x="472" y="602" width="48" height="45"/>
<rect x="475" y="605" width="42" height="5" stroke-width="1.6"/>
<rect x="475" y="641" width="42" height="5" stroke-width="1.6"/>
<line x1="475" y1="625" x2="517" y2="625"/>
<path d="M377,655 A43,43 0 0 1 463,655" stroke-width="1.5"/>
<path d="M381,655 A39,39 0 0 1 459,655" stroke-width="0.8"/>
<path d="M385,655 A35,35 0 0 1 455,655" stroke-width="0.8"/>
<path d="M320,655 L330,668 H350 L352,660" stroke-width="1"/>
<circle cx="338" cy="664" r="4" stroke-width="1"/>
<circle cx="473" cy="661" r="4" stroke-width="1"/>
<rect x="295" y="650" width="10" height="10" stroke-width="1"/>
</g>
<g fill="none" stroke="#000" stroke-width="1"><rect x="318" y="578" width="4" height="12" rx="1"/><rect x="345" y="578" width="4" height="12" rx="1"/><rect x="376" y="578" width="4" height="12" rx="1"/><rect x="402" y="578" width="4" height="12" rx="1"/><rect x="428" y="578" width="4" height="12" rx="1"/><rect x="455" y="578" width="4" height="12" rx="1"/><rect x="486" y="578" width="4" height="12" rx="1"/><rect x="512" y="578" width="4" height="12" rx="1"/></g>
<circle cx="384" cy="597" r="2" fill="#000"/><circle cx="453" cy="597" r="2" fill="#000"/>
<circle cx="401" cy="610" r="2.8" fill="none" stroke="#1a7a9a" stroke-width="1.5"/><circle cx="405" cy="610" r="2" fill="none" stroke="#1a7a9a" stroke-width="1.2"/>
<rect x="427" y="608" width="10" height="3" fill="#c33" stroke="#000" stroke-width="0.6"/>
<rect x="295" y="649" width="82" height="6" fill="#888" stroke="#000" stroke-width="0.8"/>
<rect x="463" y="649" width="57" height="5" fill="#888" stroke="#000" stroke-width="0.8"/>
<rect x="462" y="650" width="5" height="3" fill="#000"/>
<use href="#wheel" x="418" y="657"/>
<!-- pump panel 2 -->
<g fill="none" stroke="#000" stroke-width="1">
<rect x="550" y="507" width="20" height="30"/>
<rect x="527" y="522" width="20" height="6" fill="#aaa"/>
<rect x="573" y="523" width="14" height="12" stroke-width="1.8"/>
<rect x="525" y="537" width="82" height="5" fill="#999"/>
<rect x="525" y="570" width="82" height="7" fill="#aaa"/>
<line x1="525" y1="537" x2="525" y2="660" stroke-width="1.2"/>
<rect x="527" y="578" width="76" height="72" stroke-width="1.3"/>
<path d="M527,650 L532,660 H600 L605,650" stroke-width="1.2"/>
<rect x="535" y="580" width="7" height="13" rx="2" stroke-width="1.8"/>
<rect x="535" y="598" width="7" height="17" rx="2" stroke-width="1.8"/>
<rect x="545" y="626" width="12" height="12" stroke-width="1.2"/>
<circle cx="551" cy="632" r="3.5"/>
</g>
<g fill="#22cc22" stroke="#000" stroke-width="0.4"><rect x="549" y="582" width="3" height="6"/><rect x="574" y="582" width="3" height="6"/><rect x="592" y="582" width="3" height="6"/><rect x="522" y="600" width="4" height="13"/><rect x="522" y="617" width="4" height="15"/><rect x="603" y="600" width="4" height="13"/><rect x="603" y="617" width="4" height="15"/><circle cx="568" cy="643" r="3"/></g>
<circle cx="562" cy="598" r="5" fill="#222" stroke="#f00" stroke-width="1.2"/>
<circle cx="562" cy="598" r="2.5" fill="none" stroke="#cc00cc" stroke-width="1.2"/>
<circle cx="570" cy="588" r="3.2" fill="#222" stroke="#cc00cc" stroke-width="1.5"/>
<circle cx="578" cy="594" r="5" fill="#ccc" stroke="#2233cc" stroke-width="2"/>
<circle cx="560" cy="615" r="9" fill="#ccc" stroke="#2233cc" stroke-width="2.2"/>
<circle cx="560" cy="621" r="4.5" fill="#aaa" stroke="#555" stroke-width="0.6"/>
<circle cx="579" cy="612" r="5.5" fill="#ccc" stroke="#2233cc" stroke-width="2"/>
<circle cx="586" cy="625" r="6" fill="#bbb" stroke="#555" stroke-width="0.6"/>
<path d="M590,640 V620 H598 V645" fill="none" stroke="#2233cc" stroke-width="2"/>
<circle cx="571" cy="630" r="3" fill="#222" stroke="#cc00cc" stroke-width="1.5"/>
<circle cx="559" cy="643" r="3.5" fill="#222" stroke="#cc00cc" stroke-width="1.5"/>
<rect x="532" y="640" width="11" height="7" fill="#f00" stroke="#000" stroke-width="0.8"/>
<g fill="#fff" stroke="#000" stroke-width="0.8"><rect x="574" y="638" width="5" height="9"/><rect x="582" y="638" width="5" height="9"/><rect x="590" y="638" width="5" height="9"/></g>
<!-- cab 2 -->
<g fill="none" stroke="#000" stroke-width="1.4">
<path d="M607,655 V503 H745 Q751,503 755,509 L761,518 H790 L821,577 Q826,584 826,590 V633" stroke-width="1.5"/>
<path d="M760,518 L761,506 H778 V518" stroke-width="1"/>
<path d="M795,524 Q810,514 824,519 L834,532" stroke-width="1.5"/>
<rect x="803" y="633" width="27" height="19"/>
<path d="M607,655 H650 M740,655 H803" stroke-width="1.5"/>
<path d="M650,655 V650 A45,45 0 0 1 740,650 V655" stroke-width="1.5"/>
<path d="M654,655 V650 A41,41 0 0 1 736,650 V655" stroke-width="0.8"/>
<path d="M658,655 V650 A37,37 0 0 1 732,650 V655" stroke-width="0.8"/>
<rect x="619" y="529" width="47" height="44" rx="5" stroke-width="2"/>
<line x1="621" y1="563" x2="664" y2="563" stroke-width="0.8"/>
<rect x="673" y="529" width="29" height="44" rx="5" stroke-width="2"/>
<rect x="727" y="527" width="55" height="46" rx="5" stroke-width="2"/>
<path d="M786,530 H797 L815,572 H790 Z" stroke-width="1.4"/>
<line x1="613" y1="508" x2="613" y2="655" stroke-width="1"/>
<line x1="667" y1="503" x2="667" y2="612" stroke-width="1"/>
<line x1="720" y1="518" x2="720" y2="655" stroke-width="1"/>
<line x1="790" y1="560" x2="790" y2="652" stroke-width="1"/>
<path d="M613,635 H652 M738,635 H790" stroke-width="0.8"/>
<rect x="608" y="555" width="3.5" height="35" rx="1.5" stroke-width="1"/>
<rect x="715" y="555" width="3.5" height="35" rx="1.5" stroke-width="1"/>
<rect x="600" y="532" width="3" height="23" rx="1.5" stroke-width="1"/>
<rect x="617" y="587" width="16" height="3" stroke-width="0.8"/>
<rect x="724" y="587" width="16" height="3" stroke-width="0.8"/>
<path d="M815,595 L821,597 L823,606 L821,616 L815,618 L812,612 L812,599 Z" stroke-width="1.5"/>
<path d="M822,578 L830,582 L827,592" stroke-width="1.2"/>
</g>
<rect x="767" y="528" width="6" height="34" rx="2" fill="#fff" stroke="#000" stroke-width="1.8"/>
<rect x="768" y="577" width="7" height="6" fill="#fff" stroke="#000" stroke-width="1.5"/>
<rect x="778" y="503" width="20" height="5" fill="#fff" stroke="#f00" stroke-width="1.5"/>
<rect x="826" y="635" width="8" height="15" rx="3" fill="#222"/>
<rect x="808" y="637" width="4" height="11" fill="#00e8f0" stroke="#000" stroke-width="0.8"/>
<rect x="608" y="512" width="4" height="22" fill="#22cc22" stroke="#000" stroke-width="0.5"/>
<rect x="676" y="513" width="23" height="8" rx="1.5" fill="#00e8f0" stroke="#000" stroke-width="1.5"/>
<line x1="607" y1="577" x2="822" y2="577" stroke="#ff3030" stroke-width="1"/>
<rect x="692" y="582" width="5" height="6" fill="#ffee00" stroke="#000" stroke-width="0.5"/>
<rect x="688" y="593" width="13" height="8" fill="#f00" stroke="#000" stroke-width="1.2"/>
<rect x="798" y="621" width="12" height="6" fill="#f00" stroke="#000" stroke-width="1.2"/>
<rect x="695" y="565" width="7" height="4" fill="#222"/>
<circle cx="618" cy="595" r="1" fill="#000"/><circle cx="725" cy="595" r="1" fill="#000"/>
<g fill="#000"><rect x="745" y="656" width="3" height="5"/><rect x="752" y="656" width="3" height="5"/><rect x="760" y="656" width="6" height="4"/></g>
<use href="#sp" x="630" y="637"/><use href="#sp" x="630" y="660"/><use href="#sp" x="765" y="637"/><use href="#sp" x="765" y="660"/><use href="#sp" x="325" y="659"/><use href="#sp" x="517" y="659"/>
<use href="#wheel" x="693" y="657"/>
</svg>
</body></html>
